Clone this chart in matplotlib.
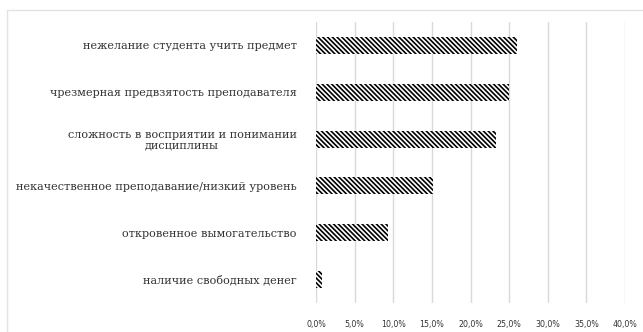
import matplotlib
matplotlib.use("Agg")
import matplotlib.pyplot as plt
from matplotlib.patches import Rectangle

categories = [
    "нежелание студента учить предмет",
    "чрезмерная предвзятость преподавателя",
    "сложность в восприятии и понимании\nдисциплины",
    "некачественное преподавание/низкий уровень",
    "откровенное вымогательство",
    "наличие свободных денег",
]
values = [26.0, 25.0, 23.3, 15.1, 9.3, 0.8]
xticks = [0, 5, 10, 15, 20, 25, 30, 35, 40]
xticklabels = ["0,0%", "5,0%", "10,0%", "15,0%", "20,0%", "25,0%", "30,0%", "35,0%", "40,0%"]

plt.rcParams['hatch.linewidth'] = 1.2
plt.rcParams['hatch.color'] = 'black'

fig = plt.figure(figsize=(6.43, 3.32), dpi=100)
W, H = 643, 332
ax = fig.add_axes([316 / W, 1 - 303 / H, (625 - 316) / W, (303 - 22) / H])

# outer chart border
fig.patches.append(Rectangle((7 / W, -0.1), 1.2, 1 - 10 / H + 0.1, transform=fig.transFigure,
                             fill=False, edgecolor='#e3e3e3', linewidth=1.0))

ypos = list(range(len(categories)))
ax.barh(ypos, values, height=0.36, color='white', edgecolor='black', linewidth=0,
        hatch='\\' * 7, zorder=3)
ax.set_ylim(len(categories) - 0.5, -0.5)
ax.set_xlim(0, 40)
ax.set_xticks(xticks)
ax.set_xticklabels(xticklabels, fontsize=6.3, family='DejaVu Sans', fontstretch='condensed',
                   color='#333333')
ax.set_yticks(ypos)
ax.set_yticklabels(categories, fontsize=8.1, family='DejaVu Serif', color='#333333',
                   ha='right', multialignment='center', linespacing=1.05)
ax.tick_params(axis='both', length=0)
ax.tick_params(axis='x', pad=12)
ax.tick_params(axis='y', pad=14)
ax.grid(axis='x', color='#d9d9d9', linewidth=1.0, zorder=0)
for s in ax.spines.values():
    s.set_visible(False)

fig.savefig("out.png", dpi=100)
